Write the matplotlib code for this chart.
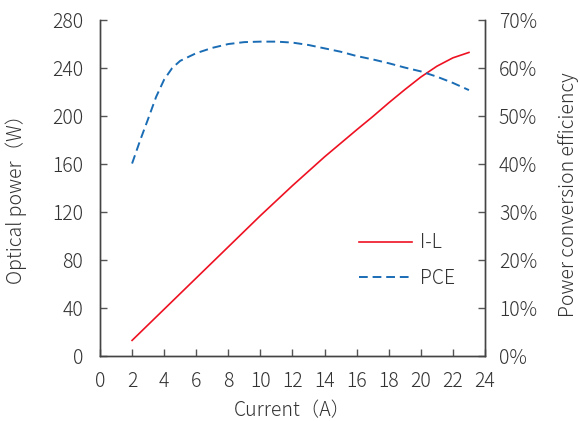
import numpy as np
import matplotlib.pyplot as plt
from matplotlib.ticker import FuncFormatter

plt.rcParams['font.family'] = ['Noto Sans CJK JP', 'DejaVu Sans']
plt.rcParams['font.weight'] = 'light'
plt.rcParams['axes.labelweight'] = 'light'

# I-L data (current in A, optical power in W)
il_current = [2, 4, 6, 8, 10, 12, 14, 16, 17, 18, 19, 20, 21, 22, 23]
il_power = [13, 39, 65, 91, 117, 142, 166, 188.5, 199.5, 211, 222, 232.5, 241.5, 248.5, 253]

# power conversion efficiency (%)
pce_current = [2, 2.5, 3, 3.5, 4, 4.5, 5, 6, 7, 8, 9, 10, 11, 12, 13, 14, 15, 16,
               17, 18, 19, 20, 21, 22, 23]
pce_value = [40.1, 44.9, 49.4, 54.0, 57.6, 60.0, 61.5, 63.1, 64.2, 65.0, 65.4, 65.5,
             65.5, 65.3, 64.8, 64.1, 63.4, 62.5, 61.8, 61.0, 60.1, 59.3, 58.2, 56.9, 55.4]

xticks = np.arange(0, 25, 2)
yticks = np.arange(0, 281, 40)
pticks = np.arange(0, 71, 10)

txt = '#333333'

fig = plt.figure(figsize=(5.8, 4.21), dpi=100)
ax = fig.add_axes([0.1724, 0.1544, 0.6638, 0.798])
ax2 = ax.twinx()

l1, = ax.plot(il_current, il_power, color='#EE1122', lw=1.2, label='I-L')
l2, = ax2.plot(pce_current, pce_value, color='#1A6DB5', lw=1.4, ls=(0, (4.5, 2.5)),
               label='PCE')

ax.set_xlim(0, 24)
ax.set_ylim(0, 280)
ax2.set_ylim(0, 70)
ax.set_xticks(xticks)
ax.set_yticks(yticks)
ax2.set_yticks(pticks)
ax2.yaxis.set_major_formatter(FuncFormatter(lambda v, p: '%d%%' % v))

for a in (ax, ax2):
    a.spines['top'].set_visible(False)
    for s in a.spines.values():
        s.set_color('#444444')
        s.set_linewidth(1.0)
    a.tick_params(direction='in', length=5, width=1.0, color='#555555',
                  labelsize=14, labelcolor=txt)
ax.tick_params(axis='x', pad=11)
ax.tick_params(axis='y', pad=12)
ax2.tick_params(axis='y', pad=10)

ax.set_xlabel('Current（A）', fontsize=14, color=txt, fontweight='light')
ax.set_ylabel('Optical power（W）', fontsize=14, color=txt, fontweight='light')
ax2.set_ylabel('Power conversion efficiency', fontsize=14, color=txt, fontweight='light')
ax.xaxis.set_label_coords(0.5, -0.132)
ax.yaxis.set_label_coords(-0.19, 0.48)
ax2.yaxis.set_label_coords(1.19, 0.48)

ax2.legend(handles=[l1, l2], loc='upper left', bbox_to_anchor=(0.628, 0.42),
           frameon=False, fontsize=14, handlelength=2.7, labelspacing=0.75,
           handletextpad=0.4, labelcolor=txt)

fig.savefig('out.png', dpi=100)
